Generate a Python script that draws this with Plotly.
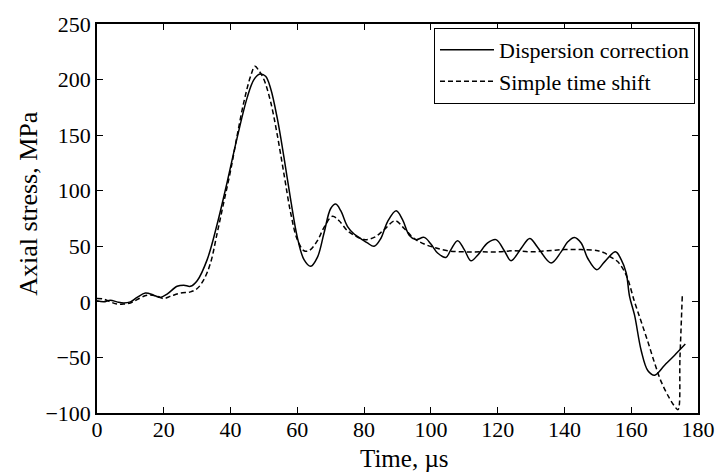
import plotly.graph_objects as go

# Dispersion correction (solid)
t_disp = [0, 2, 4, 6, 8, 10, 12, 14.5, 17, 19, 21, 24, 26, 28, 30, 33, 36, 39, 42, 45, 47, 48.8, 50.5, 52, 54, 56, 58, 60, 62, 64,
          66, 68, 70, 71.5, 73, 75, 77, 79, 81, 83, 85, 87, 89.6, 91.5, 93.5, 95.5, 98, 100, 102, 104.5, 106, 108, 110, 112,
          114, 117, 119.5, 122, 124, 127, 129.6, 132, 136, 139, 141, 143, 145, 147, 149.7, 152, 155.3, 157, 158.5, 159.5,
          161, 163, 165, 167, 170, 173, 176.2]
v_disp = [1, 0, 1.5, 0, -1, 0, 4, 8, 6, 4, 7, 14, 15, 14, 19, 38, 70, 108, 148, 184, 200, 205, 203, 192, 165, 130, 92, 58, 38, 32,
          40, 62, 84, 88, 82, 68, 61, 57, 53, 50, 57, 72, 82, 74, 60, 56, 58, 52, 44, 40, 47, 55, 47, 37,
          42, 53, 56, 46, 37, 48, 57, 49, 35, 45, 54, 58, 53, 39, 29, 36, 45, 38, 26, 5,
          -12, -44, -62, -66, -57, -48, -38]

# Simple time shift (dashed)
t_shift = [0, 2, 4, 6, 8, 10, 12, 15, 18, 20, 22, 25, 28, 30, 32, 34, 36, 38, 40, 42, 44, 46, 47.3, 48.5, 50, 52, 54, 56, 58, 60,
           62, 63.5, 66, 68, 70.5, 72.5, 75, 77, 80, 83, 86, 89.3, 92, 95, 98, 101, 105, 110, 115, 120, 125, 130, 135, 140,
           145, 150, 152, 154, 156, 158.5, 161, 163, 165, 167, 169, 171.5, 173, 174, 174.6, 175.3]
v_shift = [3, 2.5, 0, -2, -2, -1, 2, 6, 5, 3, 5, 8, 9, 12, 20, 35, 62, 90, 118, 150, 180, 203, 212, 208, 200, 180, 150, 115, 80, 56,
           46, 46, 55, 67, 77, 73, 64, 60, 56, 58, 65, 73, 66, 57, 52, 49, 46, 45, 45, 45, 46, 45, 46, 47,
           47, 46, 44, 40, 36, 24, 0, -18, -36, -55, -72, -87, -94, -97, -50, 6]

x_ticks = [0, 20, 40, 60, 80, 100, 120, 140, 160, 180]
y_ticks = [-100, -50, 0, 50, 100, 150, 200, 250]

x_title = "Time, µs"
y_title = "Axial stress, MPa"

FONT = "Liberation Serif"

fig = go.Figure()
fig.add_trace(go.Scatter(x=t_disp, y=v_disp, mode="lines", name="Dispersion correction",
                         line=dict(color="black", width=1.5, shape="spline", smoothing=1.0)))
fig.add_trace(go.Scatter(x=t_shift, y=v_shift, mode="lines", name="Simple time shift",
                         line=dict(color="black", width=1.5, dash="5px,3px", shape="spline", smoothing=1.0)))

axis_common = dict(showline=True, linecolor="black", linewidth=1.5, mirror="ticks", ticks="inside",
                   ticklen=6, tickwidth=1, tickcolor="black", showgrid=False, zeroline=False,
                   tickfont=dict(family=FONT, size=22, color="black"))

fig.update_xaxes(range=[0, 180], tickvals=x_ticks, ticklabelstandoff=-4, **axis_common)
fig.update_yaxes(range=[-100, 250], tickvals=y_ticks, **axis_common)

fig.add_annotation(text=x_title, xref="paper", yref="paper", x=0.512, y=-0.117,
                   xanchor="center", yanchor="middle", showarrow=False,
                   font=dict(family=FONT, size=25, color="black"))
fig.add_annotation(text=y_title, xref="paper", yref="paper", x=-0.113, y=0.538,
                   xanchor="center", yanchor="middle", showarrow=False, textangle=-90,
                   font=dict(family=FONT, size=26, color="black"))

fig.update_layout(
    width=727, height=473,
    margin=dict(l=97, r=19, t=17, b=60),
    paper_bgcolor="white", plot_bgcolor="white",
    showlegend=True,
    legend=dict(x=0.995, y=0.99, xanchor="right", yanchor="top",
                bordercolor="black", borderwidth=1, bgcolor="white",
                font=dict(family=FONT, size=22, color="black"),
                itemwidth=54, tracegroupgap=0),
)

fig.write_html("out.html")
